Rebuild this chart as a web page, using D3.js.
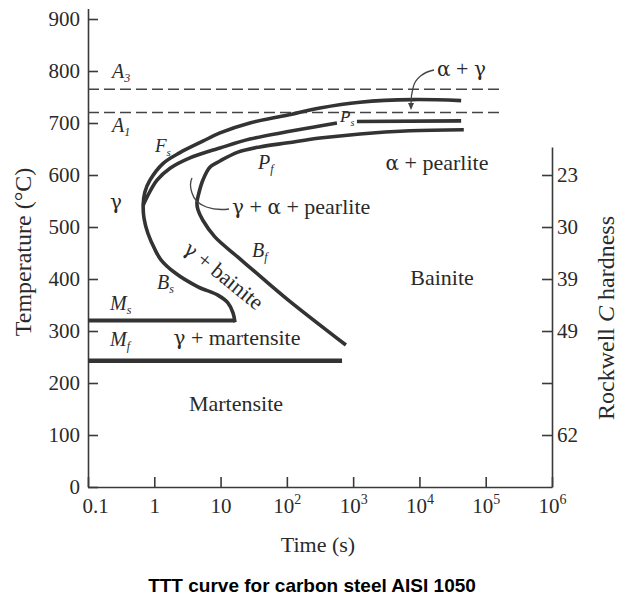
<!DOCTYPE html>
<html>
<head>
<meta charset="utf-8">
<script src="https://cdnjs.cloudflare.com/ajax/libs/d3/7.8.5/d3.min.js"></script>
<style>
  body { margin: 0; background: #fff; }
  svg text { font-family: "Liberation Serif", "Times New Roman", serif; fill: #2a2a2a; }
  .axis path, .axis line { stroke: #3a3a3a; stroke-width: 1.6; }
  .axis text { font-size: 21px; }
  .curve { fill: none; stroke: #333; stroke-width: 3.6; stroke-linejoin: round; }
  .crit { fill: none; stroke: #444; stroke-width: 1.5; stroke-dasharray: 11,5; }
  .lbl { font-size: 22px; }
  .greek { font-family: "DejaVu Serif", serif; font-size: 20px; }
</style>
</head>
<body>
<script>
// tick values
const timeTicks = [0.1, 1, 10, 1e2, 1e3, 1e4, 1e5, 1e6];
const tempTicks = [0, 100, 200, 300, 400, 500, 600, 700, 800, 900];
const hardnessTemps = [600, 500, 400, 300, 200, 100];
const hardnessLabels = ["23", "30", "39", "49", "", "62"];

// critical temperatures (°C) and where the dashed lines stop (s)
const a3Temp = 765;
const a1Temp = 720;
const criticalEnd = 1.8e5;

// curves as [time (s), temperature (°C)]
// start curve: Bs below the nose, Fs above it
const startCurve = [
  [16.5, 317], [15.4, 335], [12.9, 354], [9.1, 369], [4.56, 385], [2.05, 412],
  [1.26, 437], [1.03, 456], [0.80, 488], [0.70, 517], [0.68, 542], [0.72, 567],
  [0.86, 590], [1.35, 622], [2.44, 643], [5.4, 665], [9.8, 681], [27.7, 700],
  [100, 715], [316, 729], [1270, 740], [7900, 745], [42600, 743]
];
// pearlite start Ps (broken where the label sits)
const pearliteStart = [
  [0.68, 542], [0.78, 558], [1.10, 590], [1.73, 613], [3.45, 633], [7.7, 648],
  [9.8, 652], [27.7, 669], [100, 683], [247, 692], [570, 700],
  null,
  [1140, 703], [42600, 704]
];
// finish curve: Bf below the nose, Pf above it
const finishCurve = [
  [778, 273], [104, 360], [40.6, 404], [18.3, 442], [8.2, 481], [5.4, 513],
  [4.56, 533], [4.4, 546], [4.7, 565], [5.4, 590], [6.9, 615], [9.8, 627],
  [18.3, 644], [39, 654], [104, 662], [316, 671], [1270, 679], [7200, 685],
  [46700, 687]
];
// martensite start / finish
const msLine = [[0.1, 320], [16.5, 320]];
const mfLine = [[0.1, 243], [680, 243]];

const W = 619, H = 598;

const svg = d3.select("body").append("svg")
  .attr("width", W)
  .attr("height", H);

const x = d3.scaleLog().domain([0.1, 1e6]).range([88, 552]);
const y = d3.scaleLinear().domain([0, 920]).range([487, 8.6]);
const yHard = d3.scaleLinear().domain([0, 654]).range([y(0), y(654)]);

// axes
svg.append("g")
  .attr("class", "axis")
  .attr("transform", `translate(${x(0.1)},0)`)
  .call(d3.axisLeft(y).tickValues(tempTicks).tickSize(-10).tickSizeOuter(0).tickPadding(8));

const xAxis = svg.append("g")
  .attr("class", "axis")
  .attr("transform", `translate(0,${y(0)})`)
  .call(d3.axisBottom(x).tickValues(timeTicks).tickSize(-10).tickSizeOuter(0).tickPadding(11)
        .tickFormat(d => d < 100 ? String(d) : "10"));

xAxis.selectAll(".tick text").each(function(d) {
  const t = d3.select(this);
  if (d === 0.1) t.attr("dx", 7);
  if (d >= 100) {
    t.append("tspan")
      .attr("dy", -9)
      .style("font-size", "14px")
      .text(Math.round(Math.log10(d)));
  }
});

svg.append("g")
  .attr("class", "axis")
  .attr("transform", `translate(${x(1e6)},0)`)
  .call(d3.axisRight(yHard).tickValues(hardnessTemps).tickSize(-10).tickSizeOuter(0).tickPadding(5)
        .tickFormat((d, i) => hardnessLabels[i]));

d3.selectAll(".axis .domain").attr("fill", "none");

// axis titles
svg.append("text")
  .attr("transform", "translate(31,252) rotate(-90)")
  .attr("text-anchor", "middle")
  .style("font-size", "24px")
  .text("Temperature (°C)");

const rTitle = svg.append("text")
  .attr("transform", "translate(614,318) rotate(-90)")
  .attr("text-anchor", "middle")
  .style("font-size", "24px");
rTitle.append("tspan").text("Rockwell ");
rTitle.append("tspan").style("font-style", "italic").text("C");
rTitle.append("tspan").text(" hardness");

svg.append("text")
  .attr("x", 318).attr("y", 552)
  .attr("text-anchor", "middle")
  .style("font-size", "22px")
  .text("Time (s)");

svg.append("text")
  .attr("x", 312).attr("y", 592)
  .attr("text-anchor", "middle")
  .style("font-family", "'Liberation Sans', Arial, sans-serif")
  .style("font-weight", "bold")
  .style("font-size", "19px")
  .style("fill", "#000")
  .text("TTT curve for carbon steel AISI 1050");

// critical temperature lines
[a3Temp, a1Temp].forEach(T => {
  svg.append("line")
    .attr("class", "crit")
    .attr("x1", x(0.1)).attr("x2", x(criticalEnd))
    .attr("y1", y(T)).attr("y2", y(T));
});

// curves
const line = d3.line()
  .defined(d => d !== null)
  .x(d => x(d[0]))
  .y(d => y(d[1]))
  .curve(d3.curveCatmullRom.alpha(0.5));

svg.append("path").attr("class", "curve").attr("d", line(startCurve));
svg.append("path").attr("class", "curve").attr("d", line(pearliteStart));
svg.append("path").attr("class", "curve").attr("d", line(finishCurve));

const straight = d3.line().x(d => x(d[0])).y(d => y(d[1]));
svg.append("path").attr("class", "curve").style("stroke-width", 4).attr("d", straight(msLine));
svg.append("path").attr("class", "curve").style("stroke-width", 4.5).attr("d", straight(mfLine));

// labels
function subLabel(px, py, main, sub, size) {
  const t = svg.append("text")
    .attr("x", px).attr("y", py)
    .style("font-style", "italic")
    .style("font-size", size + "px");
  t.append("tspan").text(main);
  t.append("tspan")
    .attr("dy", size * 0.22)
    .style("font-size", Math.round(size * 0.6) + "px")
    .text(sub);
}

subLabel(112, 78, "A", "3", 20);
subLabel(112, 132, "A", "1", 20);
subLabel(155, 152, "F", "s", 19);
subLabel(258, 169, "P", "f", 20);
subLabel(252, 257, "B", "f", 20);
subLabel(157, 289, "B", "s", 20);
subLabel(110, 310, "M", "s", 20);
subLabel(110, 346, "M", "f", 20);
subLabel(340, 122, "P", "s", 17);

// text with greek letters set in a serif that has a classic gamma
function richText(sel, str) {
  str.split(/([αγ])/).filter(s => s.length).forEach(part => {
    const ts = sel.append("tspan").text(part);
    if (/[αγ]/.test(part)) ts.attr("class", "greek");
  });
}

const labels = [
  {text: "γ", x: 110, y: 209, anchor: "start"},
  {text: "γ + α + pearlite", x: 232, y: 214, anchor: "start"},
  {text: "α + γ", x: 437, y: 76, anchor: "start"},
  {text: "α + pearlite", x: 437, y: 170, anchor: "middle"},
  {text: "Bainite", x: 442, y: 285, anchor: "middle"},
  {text: "γ + martensite", x: 237, y: 345, anchor: "middle"},
  {text: "Martensite", x: 236, y: 411, anchor: "middle"}
];

labels.forEach(d => {
  const t = svg.append("text")
    .attr("class", "lbl")
    .attr("x", d.x)
    .attr("y", d.y)
    .attr("text-anchor", d.anchor);
  richText(t, d.text);
});

const bain = svg.append("text")
  .attr("class", "lbl")
  .attr("transform", "translate(219,281) rotate(39)")
  .attr("text-anchor", "middle");
richText(bain, "γ + bainite");

// leaders
svg.append("path")
  .attr("d", "M229,209 C214,211 196,207 192,193 C190,187 190,182 192,178")
  .attr("fill", "none").attr("stroke", "#444").attr("stroke-width", 1.3);

svg.append("path")
  .attr("d", "M434,70 C424,72 415,78 413,88 C411,95 411,100 411,104")
  .attr("fill", "none").attr("stroke", "#444").attr("stroke-width", 1.3);
svg.append("path")
  .attr("d", "M408,103 L414,103 L411,110 Z")
  .attr("fill", "#444");
</script>
</body>
</html>
